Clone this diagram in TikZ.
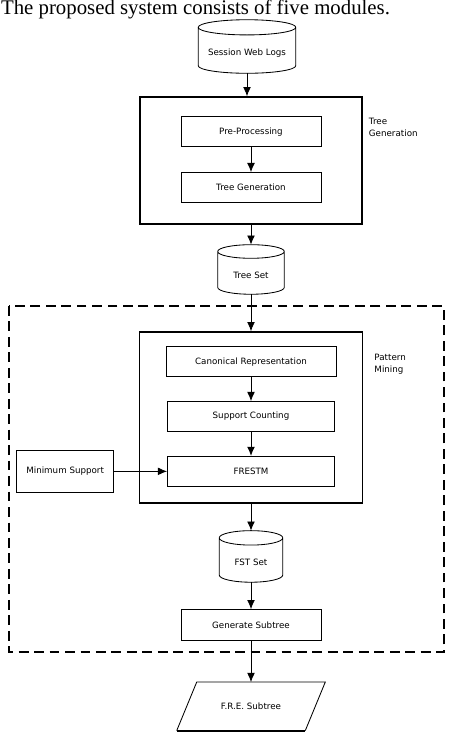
\documentclass[tikz,border=0pt]{standalone}
\usepackage{fontspec}
\setmainfont{DejaVu Sans}
\newfontfamily\bodyserif{Liberation Serif}
\usetikzlibrary{calc, arrows.meta, positioning}

% cylinder outline drawn round a named node
\newcommand{\drum}[2][0.18cm]{%
    \draw[line width=0.6pt] let \p1=(#2.north west), \p2=(#2.south east), \n1={(\x2-\x1)/2} in
        (\x1,\y1-#1) -- (\x1,\y2+#1)
        arc[start angle=180, end angle=360, x radius=\n1, y radius=#1]
        -- (\x2,\y1-#1)
        arc[start angle=0, end angle=180, x radius=\n1, y radius=#1]
        arc[start angle=180, end angle=360, x radius=\n1, y radius=#1];}

\begin{document}
\begin{tikzpicture}
    [
        >={Latex[length=6.5pt,width=5.5pt]},
        font=\fontsize{6.2}{7.5}\selectfont,
        box/.style={draw, line width=0.6pt, inner sep=0pt, minimum width=3.5cm, minimum height=0.75cm},
        bigbox/.style={draw, line width=1pt, inner sep=0pt},
        drum/.style={inner sep=0pt, text height=14pt, text depth=1.5pt},
        side/.style={anchor=north west, align=left, inner sep=0pt, font=\fontsize{6.2}{8.4}\selectfont}
    ]
    \tikzstyle{line} = [draw, ->, line width=0.6pt]

    \useasboundingbox (0,0) rectangle (11.325,-18.375);

    \node[anchor=base west, inner sep=0pt, font=\bodyserif\fontsize{14.8}{18}\selectfont] (intro) at (0.02,-0.37)
        {The proposed system consists of five modules.};

    % tree generation
    \node[drum, minimum width=2.425cm, minimum height=1.325cm] (logs) at (6.175,-1.1625) {Session Web Logs};
    \drum[0.19cm]{logs}
    \node[bigbox, minimum width=5.55cm, minimum height=3.175cm, below=0.575cm of logs, xshift=0.1cm] (tgbox) {};
    \node[box, below=0.5cm of tgbox.north] (pre) {Pre-Processing};
    \node[box, below=0.625cm of pre] (treegen) {Tree Generation};
    \node[side, xshift=0.15cm, yshift=-0.55cm] at (tgbox.north east) (tglabel) {Tree\\Generation};

    \node[drum, minimum width=1.65cm, minimum height=1.225cm, below=0.5cm of tgbox] (treeset) {Tree Set};
    \drum[0.17cm]{treeset}

    % pattern mining
    \node[bigbox, minimum width=5.575cm, minimum height=4.275cm, below=0.925cm of treeset] (pmbox) {};
    \node[box, minimum width=4.25cm, below=0.375cm of pmbox.north] (canon) {Canonical Representation};
    \node[box, minimum width=4.175cm, below=0.6cm of canon] (support) {Support Counting};
    \node[box, minimum width=4.175cm, below=0.6cm of support] (frestm) {FRESTM};
    \node[box, minimum width=2.425cm, minimum height=1.05cm, left=1.325cm of frestm] (minsup) {Minimum Support};
    \node[side, xshift=0.275cm, yshift=-0.575cm] at (pmbox.north east) (pmlabel) {Pattern\\Mining};

    \node[drum, minimum width=1.575cm, minimum height=1.275cm, below=0.675cm of pmbox] (fst) {FST Set};
    \drum[0.18cm]{fst}
    \node[box, minimum height=0.775cm, below=0.675cm of fst] (gensub) {Generate Subtree};

    \draw[dashed, line width=1.4pt, dash pattern=on 7pt off 4pt] (0.225,-7.65) rectangle (11.1,-16.3);

    % output
    \node[inner sep=0pt, minimum width=3.2cm, minimum height=1.2cm, below=1.025cm of gensub] (fre) {F.R.E. Subtree};
    \draw[line width=0.6pt] ([xshift=-0.25cm]fre.south east) -- ([xshift=0.25cm]fre.north east)
        -- ([xshift=0.25cm]fre.north west) -- ([xshift=-0.25cm]fre.south west);
    \draw[line width=1.6pt] ([xshift=-0.25cm]fre.south west) -- ([xshift=-0.25cm]fre.south east);

    \path[line] (logs) -- (logs |- tgbox.north);
    \path[line] (pre) -- (treegen);
    \path[line] (treeset |- tgbox.south) -- (treeset);
    \path[line] (treeset) -- (pmbox);
    \path[line] (canon) -- (support);
    \path[line] (support) -- (frestm);
    \path[line] (minsup) -- (frestm);
    \path[line] (pmbox) -- (pmbox |- fst.north);
    \path[line] (fst) -- (gensub);
    \path[line] (gensub) -- (fre);
\end{tikzpicture}
\end{document}
